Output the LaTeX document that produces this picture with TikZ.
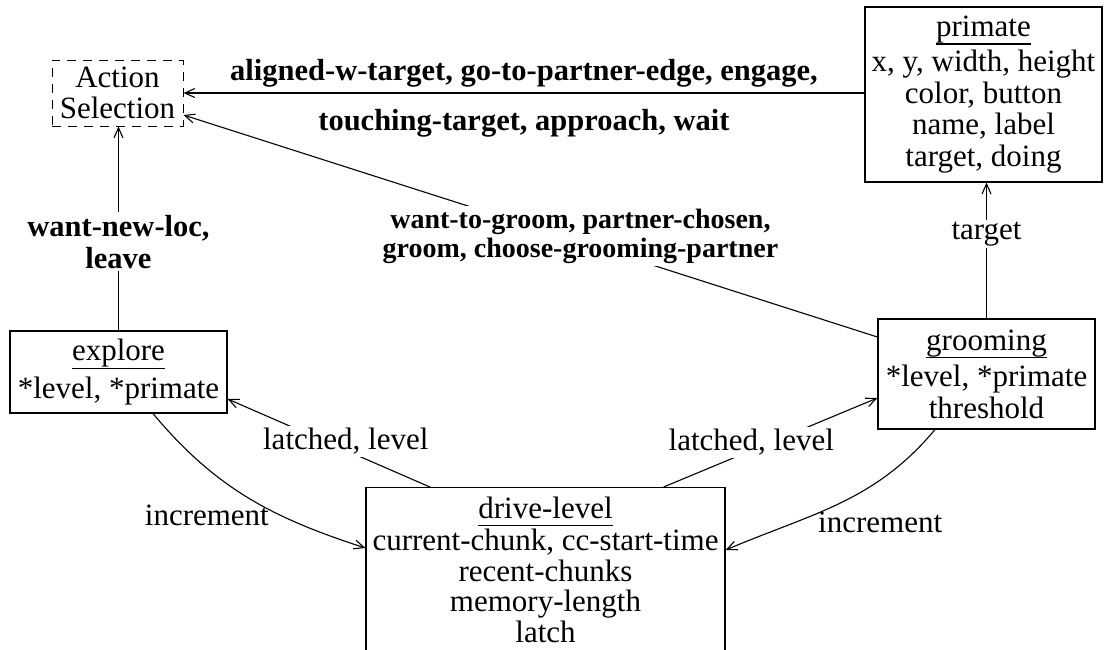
\documentclass[tikz,border=0pt]{standalone}
\usepackage{fontspec}
\setmainfont{Liberation Serif}
\usetikzlibrary{arrows.meta,calc}
\newcommand\fsz{\fontsize{31pt}{31.5pt}\selectfont}
\newcommand\fsd{\fontsize{31pt}{30.5pt}\selectfont}
\newcommand\fsb{\fontsize{30.5pt}{31.5pt}\selectfont\bfseries}
\newcommand\fsm{\fontsize{28pt}{29pt}\selectfont\bfseries}
\newcommand\ulin[1]{\setbox0=\hbox{#1}\rlap{\rule[-8.3pt]{\wd0}{1.3pt}}\box0}
\begin{document}
\begin{tikzpicture}[x=1pt,y=-1pt,
  box/.style={draw, line width=1.2pt, align=center, font=\fsz, inner sep=0pt},
  lab/.style={font=\fsb, align=center, fill=white, inner sep=3pt},
  tlab/.style={font=\fsz, align=center, fill=white, inner sep=2pt},
  plab/.style={font=\fsz, align=center, inner sep=0pt},
  arr/.style={line width=1.1pt, -{Straight Barb[length=10pt,width=9pt]}}
]
\useasboundingbox[fill=white] (0,0) rectangle (1105,649);
\node[box, line width=1pt, dash pattern=on 9pt off 7pt, minimum width=131pt, minimum height=66pt] (act) at (117.5,93) {Action\\Selection};
\node[box, minimum width=237pt, minimum height=175pt] (primate) at (983.5,94.5) {\ulin{primate}\\[4pt]x, y, width, height\\color, button\\name, label\\target, doing};
\node[box, minimum width=217pt, minimum height=110pt] (grooming) at (986.5,374) {\ulin{grooming}\\[5pt]*level, *primate\\threshold};
\node[box, minimum width=217pt, minimum height=82pt] (explore) at (118.5,372) {\ulin{explore}\\[6pt]*level, *primate};
\node[box, font=\fsd, anchor=north, minimum width=359pt, inner ysep=9pt] (drive) at (545.5,487) {\ulin{drive-level}\\[2pt]current-chunk, cc-start-time\\recent-chunks\\memory-length\\latch};

\draw[arr] (act.east -| primate.west) --
  node[plab, font=\fsb, anchor=base, yshift=13pt] {aligned-w-target, go-to-partner-edge, engage,}
  node[plab, font=\fsb, anchor=base, yshift=-37pt] {touching-target, approach, wait}
  (act.east);
\draw[arr] ([yshift=37pt]grooming.west) --
  node[lab, font=\fsm, pos=0.428, yshift=6pt] {want-to-groom, partner-chosen,\\groom, choose-grooming-partner}
  ([yshift=-22pt]act.east);
\draw[arr] (explore.north) -- node[lab, pos=0.434] {want-new-loc,\\leave} (explore.north |- act.south);
\draw[arr] (grooming.north) -- node[tlab, pos=0.62] {target} (grooming.north |- primate.south);
\draw[arr] ([xshift=64.5pt]drive.north west) -- node[tlab, pos=0.416, yshift=9pt] {latched, level} ([yshift=-27pt]explore.east);
\draw[arr] ([xshift=-62pt]drive.north east) -- node[tlab, pos=0.41, yshift=8pt] {latched, level} ([yshift=-24pt]grooming.west);
\draw[arr] ([xshift=34.5pt]explore.south) to[out=-50,in=162]
  node[plab, pos=0.5, xshift=-41pt, yshift=-18pt] {increment} ([yshift=-61pt]drive.north west);
\draw[arr] ([xshift=-51.5pt]grooming.south) to[out=-130,in=23]
  node[plab, pos=0.5, xshift=40pt, yshift=-19pt] {increment} ([yshift=-63pt]drive.north east);
\end{tikzpicture}
\end{document}
